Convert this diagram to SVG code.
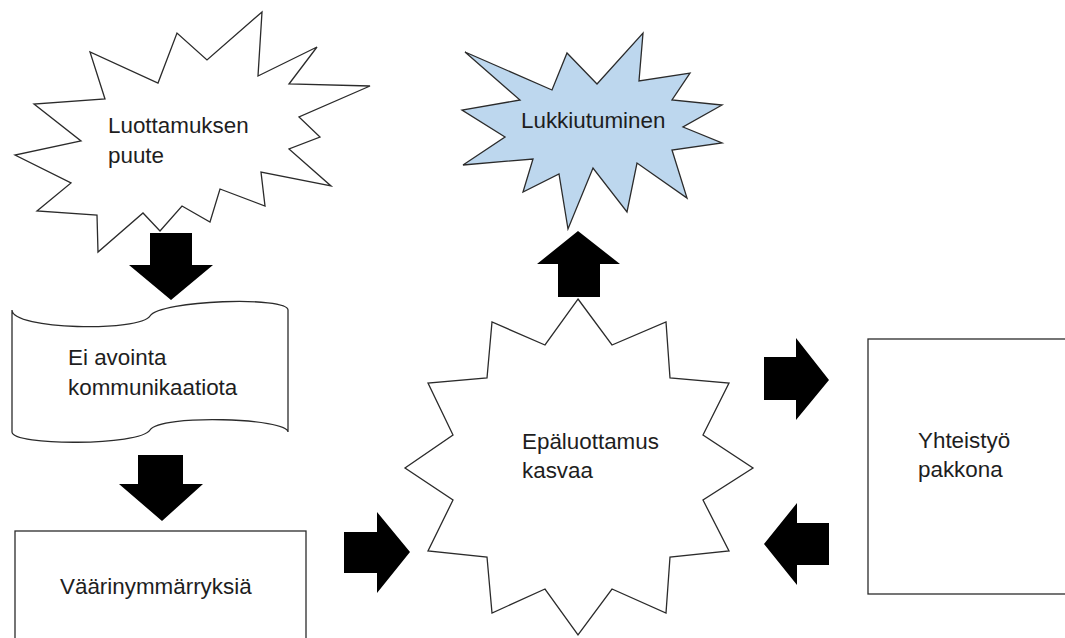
<svg xmlns="http://www.w3.org/2000/svg" width="1065" height="638" viewBox="0 0 1065 638">
<style>
.shape{fill:#fff;stroke:#2b2b2b;stroke-width:1.3;stroke-linejoin:miter}
.blue{fill:#bdd7ee}
.lbl{font-family:"Liberation Sans",Arial,sans-serif;font-size:22.4px;fill:#1e1e1e}
.arr{fill:#000}
</style>
<rect width="1065" height="638" fill="#fff"/>
<g id="node-luottamuksen">
<polygon class="shape" points="262,12 258,76 317,47 289,84 370,86 299,117 320,137 289,149 331,186 261,172 265,206 220,189 210,222 182,206 160,231 143,213 98,252 97,215 37,211 71,183 15,155 81,141 34,104 105,99 90,52 158,83 177,33 207,60"/>
<text class="lbl" x="108" y="133">Luottamuksen</text>
<text class="lbl" x="108" y="163">puute</text>
</g>
<g id="node-lukkiutuminen">
<polygon class="shape blue" points="465,52 552,90 567,53 597,84 643,33 639,81 690,73 672,100 722,105 683,127 722,143 672,150 687,198 637,163 627,212 593,168 568,229 559,174 523,192 533,159 463,165 505,137 462,110 520,100"/>
<text class="lbl" x="521" y="128">Lukkiutuminen</text>
</g>
<g id="node-kommunikaatio">
<path class="shape" d="M12,310 C12,330 140,332 150,316 C160,300 288,296 288,310 L288,432 C288,418 160,414 150,430 C140,446 12,446 12,432 Z"/>
<text class="lbl" x="68" y="365">Ei avointa</text>
<text class="lbl" x="68" y="395">kommunikaatiota</text>
</g>
<g id="node-vaarinymmarryksia">
<rect class="shape" x="15" y="531" width="291" height="120"/>
<text class="lbl" x="60" y="594">Väärinymmärryksiä</text>
</g>
<g id="node-epaluottamus">
<polygon class="shape" points="578,299 612,345 666,322 670,378 729,383 703,435 753,468 703,500 729,551 670,557 666,613 612,589 578,635 545,589 492,613 487,557 428,551 453,500 405,468 453,435 428,383 487,378 492,322 545,345"/>
<text class="lbl" x="522" y="449">Epäluottamus</text>
<text class="lbl" x="522" y="478">kasvaa</text>
</g>
<g id="node-yhteistyo">
<rect class="shape" x="868" y="339" width="210" height="255"/>
<text class="lbl" x="918" y="448">Yhteistyö</text>
<text class="lbl" x="918" y="477">pakkona</text>
</g>
<g id="connectors">
<polygon class="arr" points="150,233 192,233 192,265 213,265 171,300 129,265 150,265"/>
<polygon class="arr" points="138,455 183,455 183,484 203,484 162,521 119,484 138,484"/>
<polygon class="arr" points="558,297 600,297 600,264 620,264 578,231 537,264 558,264"/>
<polygon class="arr" points="344,532 377,532 377,512 410,552 377,593 377,573 344,573"/>
<polygon class="arr" points="764,357 796,357 796,338 829,380 796,420 796,400 764,400"/>
<polygon class="arr" points="829,523 797,523 797,503 764,544 797,585 797,565 829,565"/>
</g>
</svg>
